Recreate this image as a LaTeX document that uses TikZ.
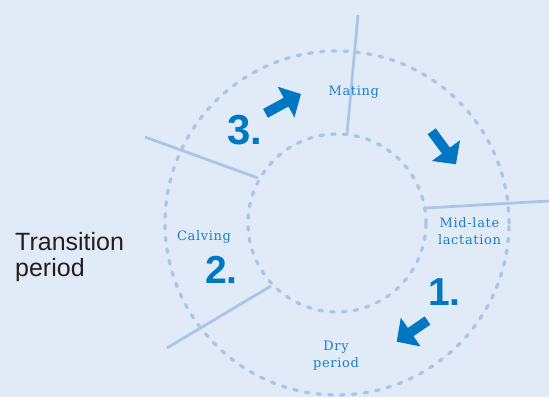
\documentclass[tikz,border=0pt]{standalone}
\usepackage{fontspec}
\usetikzlibrary{arrows.meta}
\newfontfamily\labelfont[LetterSpace=5]{DejaVu Serif}
\newfontfamily\headfont{Liberation Sans}
\definecolor{bgblue}{HTML}{E1EBF7}
\definecolor{ringblue}{HTML}{A9C6E9}
\definecolor{numblue}{HTML}{0077C2}
\definecolor{txtblue}{HTML}{1D7DC3}
\definecolor{darktext}{HTML}{231F20}
\tikzset{
  ring/.style={draw=ringblue, line width=3.3pt, line cap=round, dash pattern=on 3.6pt off 8.2pt},
  divider/.style={draw=ringblue, line width=2.8pt},
  bigarrow/.style={draw=numblue, line width=10pt, -{Triangle[length=17pt,width=34pt]}},
  phase/.style={text=txtblue, font=\labelfont\fontsize{13}{17}\selectfont, align=center, inner sep=0pt},
  stepnum/.style={text=numblue, font=\headfont\bfseries\fontsize{39}{39}\selectfont, inner sep=0pt, anchor=base west},
}
\begin{document}
\begin{tikzpicture}[x=1pt, y=-1pt]
  \fill[bgblue] (0,0) rectangle (549,397);
  \useasboundingbox (0,0) rectangle (549,397);

  % cycle rings
  \coordinate (c) at (337,223);
  \draw[ring] (c) circle[radius=172pt];
  \draw[ring] (c) circle[radius=89pt];

  % phase dividers
  \coordinate (d1a) at (347,134);  \coordinate (d1b) at (358,15);
  \coordinate (d2a) at (258,178);  \coordinate (d2b) at (145,137);
  \coordinate (d3a) at (426,208);  \coordinate (d3b) at (549,201);
  \coordinate (d4a) at (271,286);  \coordinate (d4b) at (167,348);
  \draw[divider] (d1a) -- (d1b);
  \draw[divider] (d2a) -- (d2b);
  \draw[divider] (d3a) -- (d3b);
  \draw[divider] (d4a) -- (d4b);

  % direction arrows
  \coordinate (a1s) at (265.5,113.3); \coordinate (a1e) at (301,94);
  \coordinate (a2s) at (431.7,131.3); \coordinate (a2e) at (456,164.3);
  \coordinate (a3s) at (427.5,320.5); \coordinate (a3e) at (396.7,341.7);
  \draw[bigarrow] (a1s) -- (a1e);
  \draw[bigarrow] (a2s) -- (a2e);
  \draw[bigarrow] (a3s) -- (a3e);

  % phase labels
  \node[phase, anchor=base] (mating) at (353.8,95.7) {Mating};
  \node[phase, anchor=base] (calving) at (204,240.7) {Calving};
  \node[phase] (midlate) at (469.5,231) {Mid-late\\lactation};
  \node[phase] (dry) at (336,355.5) {Dry\\period};

  % step numbers
  \node[stepnum, font=\headfont\bfseries\fontsize{42}{42}\selectfont] (n3) at (227,144) {3.};
  \node[stepnum] (n2) at (205,283) {2.};
  \node[stepnum] (n1) at (428,305) {1.};

  % side caption
  \node[text=darktext, font=\headfont\fontsize{25}{26}\selectfont, align=left, inner sep=0pt, anchor=base west] (trans) at (15,276) {Transition\\period};
\end{tikzpicture}
\end{document}
